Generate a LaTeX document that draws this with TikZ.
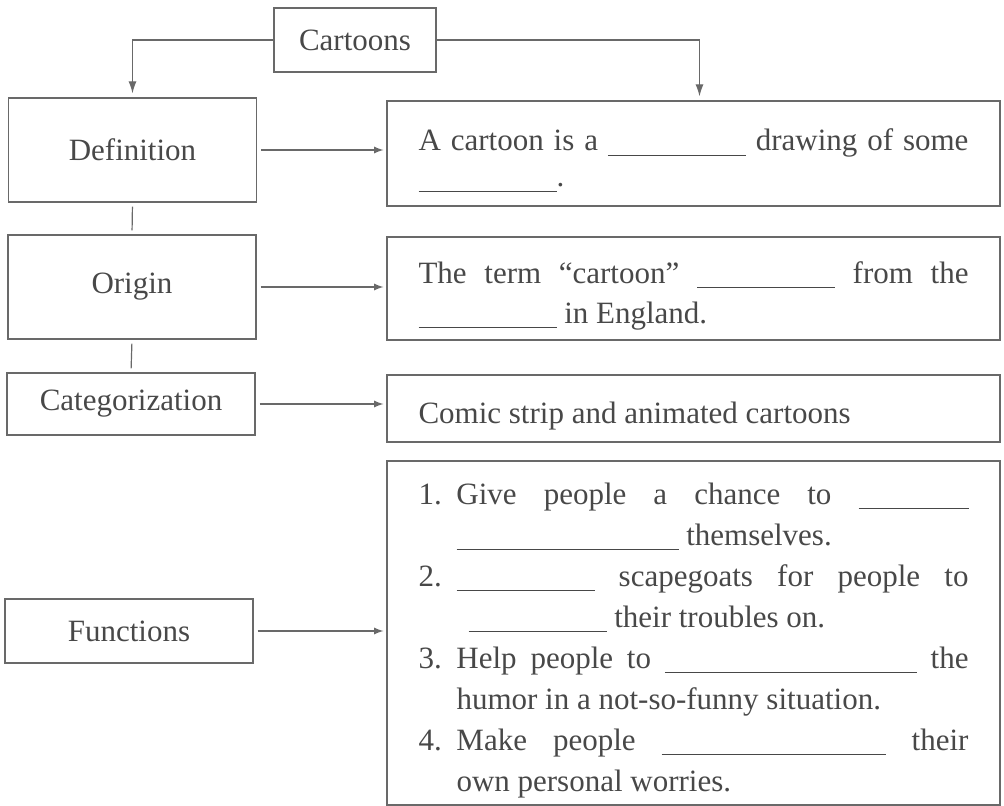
\documentclass[tikz,border=0pt]{standalone}
\usepackage{fontspec}
\setmainfont{Liberation Serif}
\usepackage{tikz}
\usetikzlibrary{arrows.meta}
\tikzset{>=latex}
\definecolor{lineg}{RGB}{105,105,105}
\definecolor{textg}{RGB}{72,72,72}
\newcommand{\blank}[1]{\rule[-2.5pt]{#1}{0.6pt}}
\newcommand{\itemno}[1]{\noindent\hangindent=19pt\hangafter=1\makebox[19pt][l]{#1}}

\begin{document}
\begin{tikzpicture}[x=0.5pt,y=-0.5pt,
  topic/.style={draw=lineg, line width=0.6pt, text=textg, inner sep=0pt,
    font=\fontsize{15.5}{18}\selectfont, minimum width=124pt},
  answer/.style={draw=lineg, line width=0.6pt, text=textg, inner xsep=15.75pt,
    inner ysep=0pt, text width=275pt, align=justify,
    font=\fontsize{15.5}{19.5}\selectfont,
    execute at begin node={\rule{0pt}{18pt}}},
  link/.style={draw=lineg, line width=0.6pt}]

\useasboundingbox (0,0) rectangle (1004,806);

% left column
\node[topic, minimum width=81pt, minimum height=32pt] (cartoons) at (355,40) {Cartoons};
\node[topic, minimum height=52pt] (definition) at (132.5,150) {Definition};
\node[topic, minimum height=52pt] (origin) at (132,287) {Origin};
\node[topic, minimum height=31pt] (categorization) at (131,404) {Categorization};
\node[topic, minimum height=32pt] (functions) at (129,631) {Functions};

% right column
\node[answer, minimum height=52.5pt, font=\fontsize{15.5}{18}\selectfont] (defR) at (693.5,153.5)
  {A cartoon is a \blank{69pt} drawing of some\linebreak\blank{69pt}.};
\node[answer, minimum height=51.5pt, font=\fontsize{15.5}{20}\selectfont] (origR) at (693.5,288.5)
  {The term “cartoon” \blank{69pt} from the\linebreak\blank{69pt} in England.};
\node[answer, minimum height=33.5pt] (catR) at (693.5,408.5)
  {Comic strip and animated cartoons};
\node[answer, minimum height=172pt, font=\fontsize{15.5}{20.5}\selectfont] (funR) at (693.5,633)
  {\itemno{1.}Give people a chance to \blank{55pt}\linebreak\blank{111pt} themselves.\par
   \itemno{2.}\blank{69pt} scapegoats for people to\linebreak\hspace*{6pt}\blank{69pt} their troubles on.\par
   \itemno{3.}Help people to \blank{126pt} the\linebreak humor in a not-so-funny situation.\par
   \itemno{4.}Make people \blank{112pt} their\linebreak own personal worries.\par};

% connectors
\draw[link,-{Latex[length=6pt,width=4pt]},shorten >=2pt] (cartoons.west) -| (definition.north);
\draw[link,-{Latex[length=6pt,width=4pt]},shorten >=2pt] (cartoons.east) -| ([xshift=3pt]defR.north);
\draw[link,shorten <=2pt,shorten >=2pt] (definition.south) -- (origin.north);
\draw[link,shorten <=2pt,shorten >=2pt] (origin.south) -- (categorization.north);

\draw[link,->,shorten <=2pt,shorten >=1.5pt] (definition.east) -- (definition.east -| defR.west);
\draw[link,->,shorten <=2pt,shorten >=1.5pt] (origin.east) -- (origin.east -| origR.west);
\draw[link,->,shorten <=2pt,shorten >=1.5pt] (categorization.east) -- (categorization.east -| catR.west);
\draw[link,->,shorten <=2pt,shorten >=1.5pt] (functions.east) -- (functions.east -| funR.west);

\end{tikzpicture}
\end{document}
